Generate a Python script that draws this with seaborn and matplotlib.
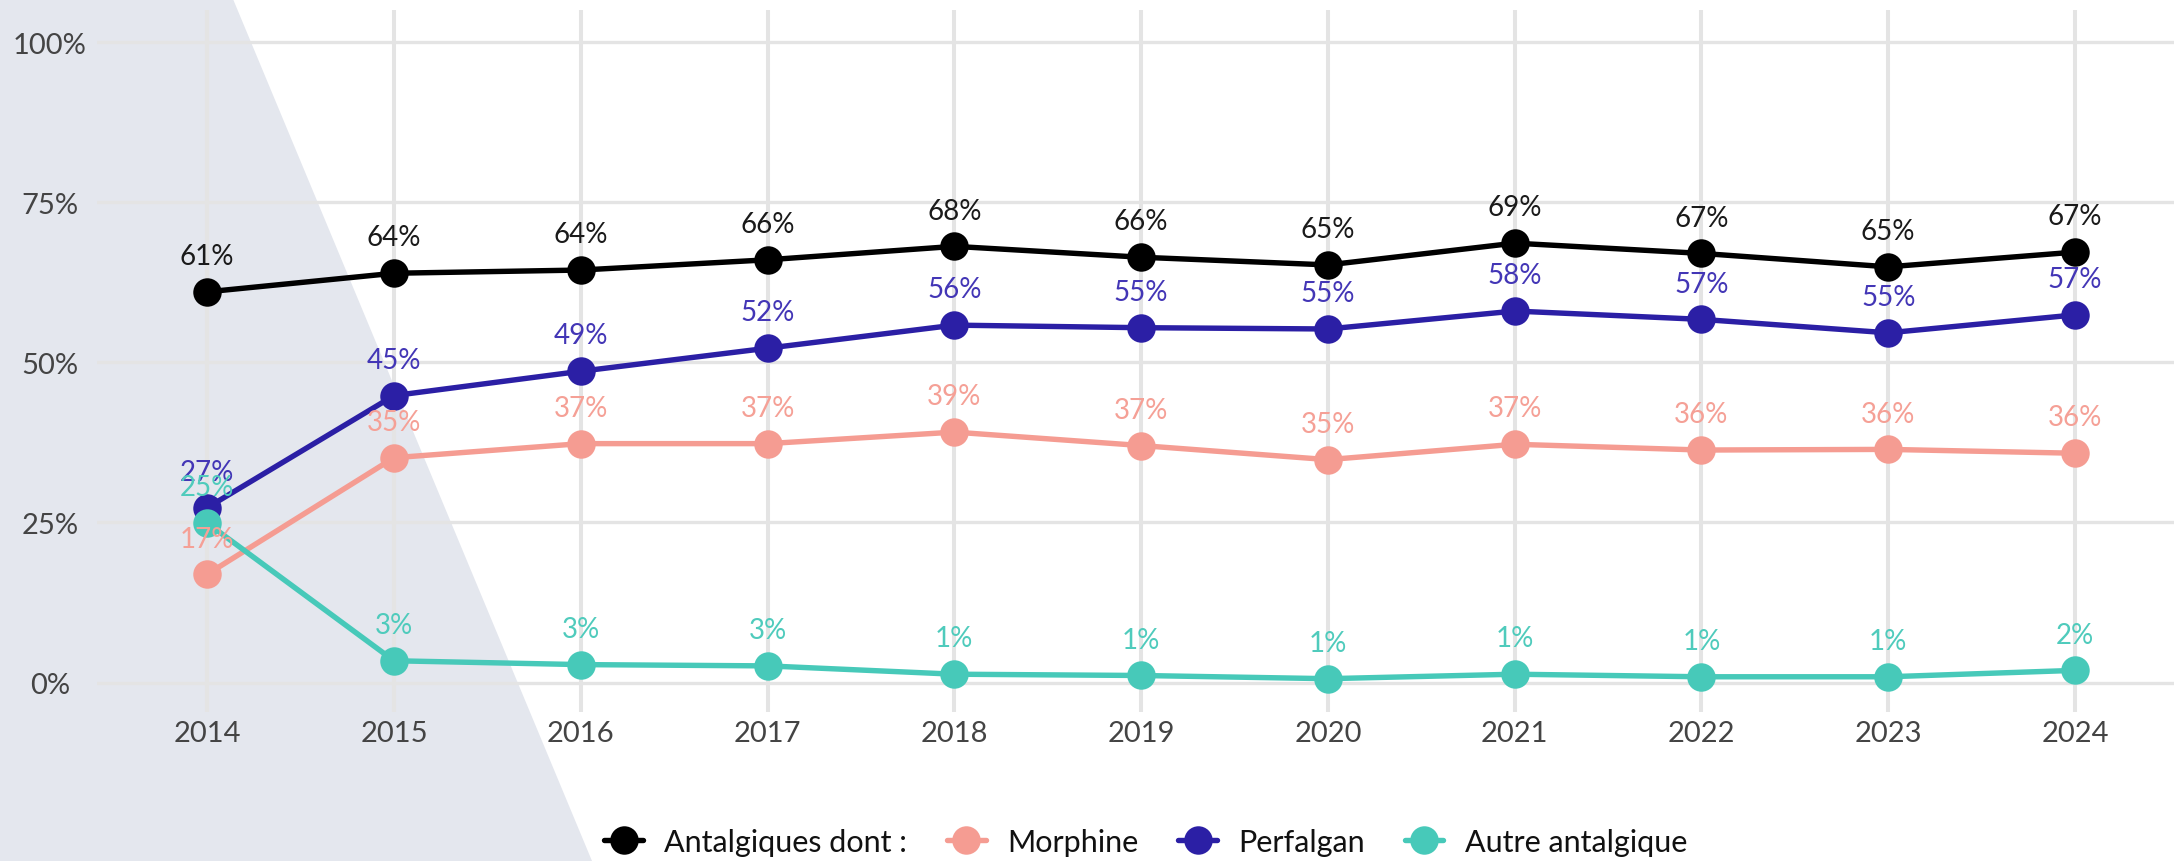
import matplotlib
matplotlib.use("Agg")
import matplotlib.pyplot as plt
from matplotlib.lines import Line2D
from matplotlib.patches import Polygon
import pandas as pd
import seaborn as sns

# Share of patients receiving each type of analgesic, per year (%)
years = [2014, 2015, 2016, 2017, 2018, 2019, 2020, 2021, 2022, 2023, 2024]
antalgiques = [61.0, 63.9, 64.4, 66.0, 68.1, 66.4, 65.2, 68.6, 67.0, 64.9, 67.2]
morphine = [16.9, 35.1, 37.3, 37.3, 39.1, 37.0, 34.8, 37.2, 36.3, 36.4, 35.8]
perfalgan = [27.3, 44.8, 48.6, 52.2, 55.8, 55.4, 55.2, 58.0, 56.7, 54.6, 57.4]
autre = [24.9, 3.4, 2.8, 2.6, 1.3, 1.1, 0.6, 1.3, 0.9, 0.9, 1.9]

series_names = ["Antalgiques dont :", "Morphine", "Perfalgan", "Autre antalgique"]
series_values = [antalgiques, morphine, perfalgan, autre]
colors = ["#000000", "#F59C92", "#2B1FA5", "#47C9B9"]
label_colors = ["#1A1A1A", "#F5A096", "#4336B6", "#4FCBBC"]
y_ticks = [0, 25, 50, 75, 100]
y_tick_labels = ["0%", "25%", "50%", "75%", "100%"]

rows = []
for name, vals in zip(series_names, series_values):
    for yr, v in zip(years, vals):
        rows.append({"year": yr, "value": v, "series": name})
df = pd.DataFrame(rows)

sns.set_theme(style="white")
plt.rcParams["font.family"] = ["Lato", "DejaVu Sans"]

W, H = 2174, 862
fig = plt.figure(figsize=(W / 100, H / 100), dpi=100)
fig.patch.set_facecolor("white")

# slanted light band on the left of the figure
band = Polygon([(0, 1), (233 / W, 1), (592 / W, 0), (0, 0)], closed=True,
               transform=fig.transFigure, facecolor="#E4E7EE", edgecolor="none",
               zorder=-5)
fig.patches.append(band)

ax = fig.add_axes([97 / W, (H - 713) / H, 1 - 97 / W, (713 - 11) / H])
ax.set_facecolor("none")

palette = dict(zip(series_names, colors))
sns.lineplot(data=df, x="year", y="value", hue="series", hue_order=series_names,
             palette=palette, marker="o", markersize=20.5, markeredgewidth=0,
             linewidth=3.9, legend=False, ax=ax, zorder=3)

# value labels above each point
for name, vals, lc in zip(series_names, series_values, label_colors):
    for yr, v in zip(years, vals):
        ax.annotate(f"{v:.0f}%", (yr, v), xytext=(0, 20), textcoords="offset points",
                    ha="center", va="baseline", fontsize=20, color=lc,
                    zorder=5)

ax.set_xlim(2013.41, 2024.53)
ax.set_ylim(-4.6, 105.0)
ax.set_xticks(years)
ax.set_xticklabels([str(y) for y in years])
ax.set_yticks(y_ticks)
ax.set_yticklabels(y_tick_labels)
ax.set_xlabel("")
ax.set_ylabel("")

ax.grid(False)
ax.xaxis.grid(True, color="#E4E4E4", linewidth=2.9, zorder=0)
ax.yaxis.grid(True, color="#E4E4E4", linewidth=2.4, zorder=0)
ax.set_axisbelow(True)
for s in ax.spines.values():
    s.set_visible(False)

ax.tick_params(axis="x", length=0, pad=6, labelsize=21, labelcolor="#444444")
ax.tick_params(axis="y", length=0, pad=34, labelsize=21, labelcolor="#444444")
for lab in ax.get_yticklabels():
    lab.set_horizontalalignment("center")

handles = [Line2D([0], [0], color=c, linewidth=3.9, marker="o", markersize=20.5,
                  markeredgewidth=0) for c in colors]
fig.legend(handles, series_names, loc="center", bbox_to_anchor=(0.527, 0.022),
           ncol=4, frameon=False, fontsize=22, handlelength=1.27,
           handletextpad=0.7, columnspacing=1.3, labelcolor="#111111")

fig.savefig("out.png", dpi=100)
